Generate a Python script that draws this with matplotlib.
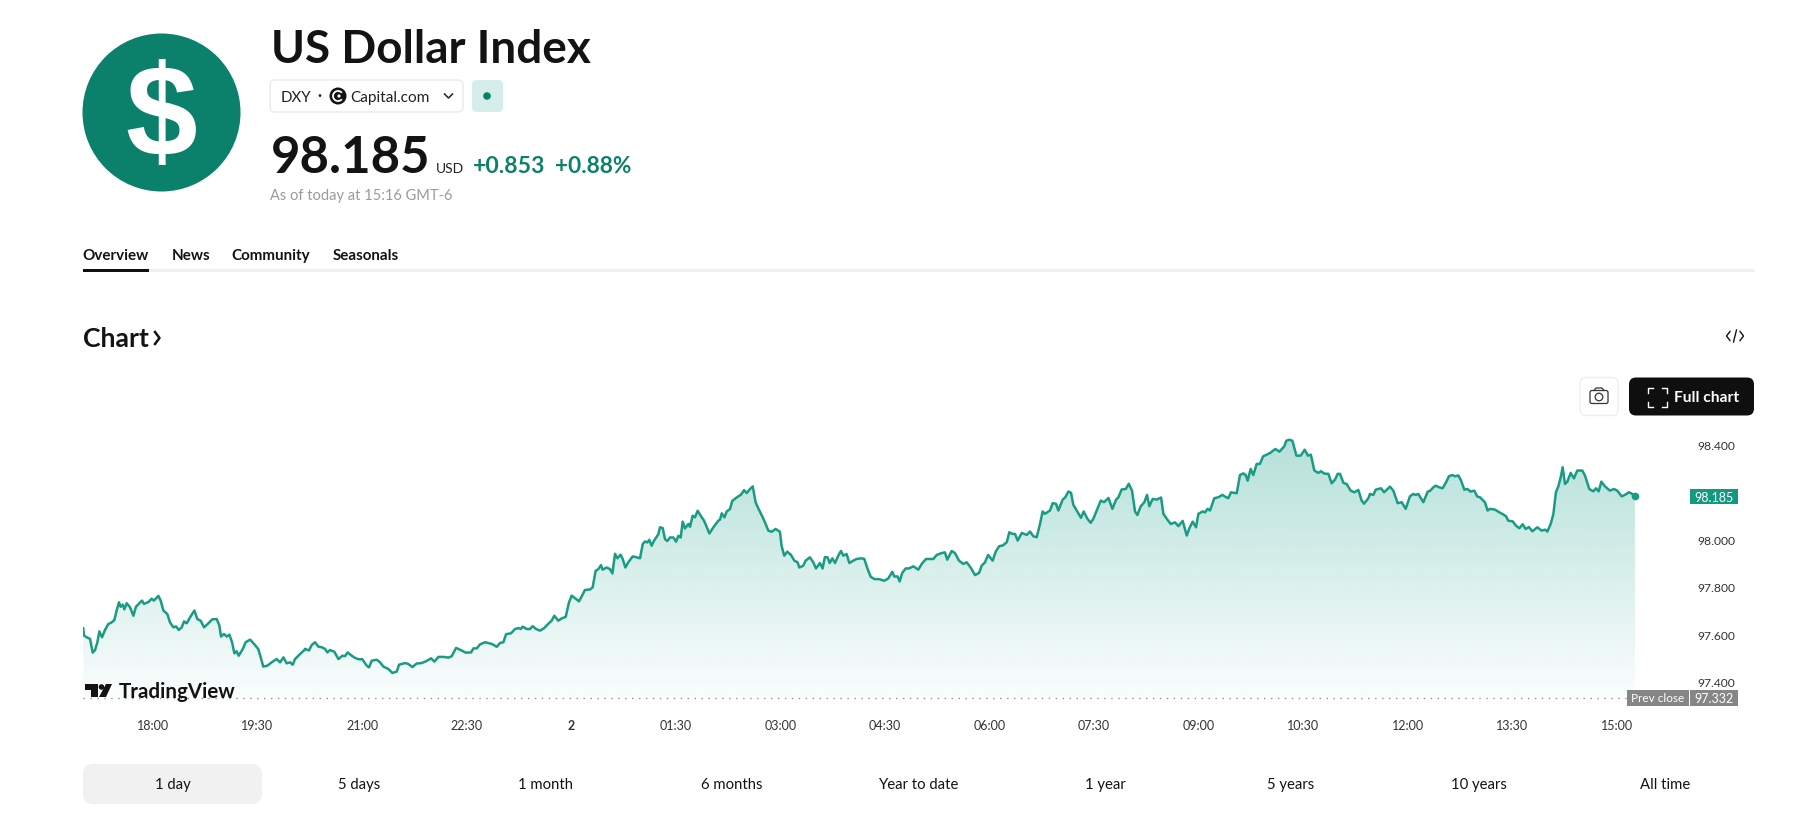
import numpy as np
import matplotlib
matplotlib.use('Agg')
import matplotlib.pyplot as plt
from matplotlib.patches import Circle, FancyBboxPatch, Polygon, Rectangle, Arc

# ----------------------------------------------------------------------------------------------------------------------
# values: minutes since 17:00, index value

minutes = [
    0, 0.7, 3.0, 5.9, 6.7, 8.2, 10.2, 12.2, 13.9, 16.2, 18.8, 21.6, 24.5, 26.8, 28.8, 30.8, 32.2, 34.0, 35.4, 37.4,
    40.3, 43.2, 45.4, 48.3, 50.6, 52.3, 56.1, 58.9, 60.9, 64.7, 66.7, 69.0, 72.4, 74.7, 77.6, 79.9, 82.2, 84.8, 86.8,
    89.1, 91.9, 95.7, 98.2, 101.1, 104.0, 107.7, 111.1, 114.9, 117.2, 118.6, 121.2, 123.5, 125.8, 128.1, 130.1, 132.1,
    133.8, 137.3, 139.8, 143.6, 147.0, 150.7, 153.6, 155.0, 158.5, 162.2, 166.5, 169.4, 172.3, 175.1, 178.0, 180.3,
    182.3, 186.6, 190.3,
    190.9, 194.3, 196.6, 199.5, 202.4, 205.2, 208.1, 210.1, 212.4, 216.1, 219.6, 223.0, 225.3, 227.6, 231.1, 233.9,
    236.8, 240.2, 244.0, 246.0, 248.3, 252.6, 255.5, 258.3, 262.6, 266.1, 269.8, 271.8, 277.0, 279.8, 283.3, 287.0,
    291.3, 295.6, 299.4, 302.2, 305.7, 310.0, 314.3, 317.1, 320.9, 325.7, 329.2, 333.8, 335.8, 338.7, 341.5, 345.8,
    351.6, 355.9, 358.7, 361.6, 363.9, 368.2, 371.6, 374.5, 376.5, 378.2, 381.7, 384.6,
    386.8, 389.7, 393.1, 396.5, 400.3, 403.1, 405.4, 408.9, 411.8, 415.2, 418.1, 420.4, 424.1, 426.7, 429.0, 431.8,
    436.1, 438.4, 441.0, 443.3, 445.6, 447.0, 450.5, 453.4, 455.4, 457.7, 459.7, 462.5, 464.3, 466.6, 469.1, 472.9,
    476.3, 479.2, 481.5, 483.5, 485.5, 487.2, 489.2, 491.2, 495.0, 496.4, 498.7, 500.7, 502.7, 505.0, 507.9, 510.2,
    512.2, 514.2, 515.9, 517.9, 520.8, 522.2, 524.5, 526.5, 528.8, 531.4, 534.3, 538.9, 542.3, 546.6, 548.0, 549.5,
    551.8, 553.8, 556.6, 558.6, 562.4, 566.1, 568.7, 571.0, 573.9, 576.2, 578.2,
    578.7, 581.0, 584.4, 586.7, 589.6, 592.4, 595.9, 599.6, 601.0, 603.3, 605.9, 609.1, 612.0, 614.8, 616.3, 619.7,
    621.7, 625.4, 628.3, 630.6, 634.0, 636.3, 638.3, 640.6, 642.4, 644.7, 647.0, 649.8, 652.1, 654.1, 657.0, 659.3,
    662.7, 665.6, 669.9, 672.2, 675.1, 677.7, 680.8, 684.8, 689.4, 692.9, 696.3, 698.0, 700.9, 702.6, 704.9, 707.8,
    710.6, 714.4, 718.7, 721.6, 725.3, 728.7, 731.6, 734.5, 738.8, 741.6, 743.6, 747.4, 750.2, 753.7, 757.4, 760.3,
    763.7, 767.5, 770.9,
    771.8, 773.2, 776.1, 778.7, 782.7, 785.3, 788.2, 791.3, 794.8, 797.0, 799.6, 801.9, 804.2, 807.7, 812.0, 814.8,
    817.7, 820.6, 823.4, 825.7, 827.7, 832.0, 834.3, 837.2, 839.2, 842.9, 845.2, 847.8, 850.1, 852.1, 855.0, 858.7,
    861.0, 864.2, 867.0, 869.3, 872.2, 875.7, 878.5, 882.3, 885.7, 888.9, 890.9, 893.7, 897.2, 899.8, 902.6, 905.2,
    907.2, 910.1, 913.2, 915.5, 917.5, 920.4, 923.9, 927.6, 929.6, 932.5, 935.9, 939.6, 942.5, 946.2, 949.7, 952.0,
    954.8, 957.7, 959.7, 963.4,
    965.4, 967.7, 969.7, 973.4, 976.9, 980.3, 982.6, 985.5, 987.8, 992.7, 995.5, 998.4, 1000.4, 1002.1, 1004.7, 1007.0,
    1009.9, 1012.7, 1015.4, 1021.4, 1025.9, 1029.4, 1033.6, 1035.4, 1037.9, 1040.6, 1044.1, 1047.7, 1051.2, 1054.0,
    1056.5, 1059.5, 1062.9, 1065.2, 1068.1, 1071.6, 1074.4, 1077.3, 1079.6, 1081.6, 1084.5, 1087.3, 1090.8, 1093.9,
    1097.4, 1100.2, 1102.3, 1106.0, 1107.4, 1110.3, 1112.3, 1116.9, 1119.5, 1124.6, 1127.5, 1131.2, 1134.7, 1138.1,
    1141.8, 1144.7, 1146.7, 1149.0, 1153.3, 1157.1, 1159.1,
    1161.9, 1163.9, 1167.0, 1169.9, 1172.8, 1175.4, 1178.2, 1180.5, 1183.4, 1185.4, 1188.6, 1191.1, 1194.0, 1197.2,
    1199.7, 1202.0, 1204.3, 1206.3, 1208.6, 1210.6, 1214.9, 1217.8, 1221.5, 1224.4, 1226.4, 1230.2, 1233.0, 1235.9,
    1238.8, 1241.3, 1244.2, 1247.1, 1251.4, 1255.1, 1258.0, 1260.0, 1262.9, 1265.2, 1267.4, 1269.5, 1271.5, 1273.2,
    1275.2, 1277.2, 1280.1, 1282.9, 1285.8, 1290.1, 1292.4, 1296.1, 1299.6, 1301.9, 1304.2, 1306.5, 1309.6, 1313.9,
    1317.4, 1320.2, 1324.0, 1326.8, 1330.3, 1333.1, 1335.4,
]

prices = [
    97.625, 97.594, 97.587, 97.580, 97.559, 97.522, 97.533, 97.566, 97.612, 97.587, 97.618, 97.643, 97.650, 97.660,
    97.700, 97.735, 97.716, 97.725, 97.705, 97.731, 97.714, 97.678, 97.716, 97.731, 97.742, 97.728, 97.736, 97.750,
    97.742, 97.762, 97.742, 97.700, 97.685, 97.650, 97.629, 97.633, 97.618, 97.629, 97.654, 97.646, 97.671, 97.700,
    97.664, 97.657, 97.629, 97.646, 97.663, 97.664, 97.636, 97.590, 97.601, 97.590, 97.598, 97.566, 97.519, 97.528,
    97.509, 97.537, 97.566, 97.577, 97.559, 97.537, 97.488, 97.463, 97.467, 97.481, 97.495, 97.481, 97.502, 97.477,
    97.481, 97.471, 97.495, 97.516, 97.533,
    97.538, 97.531, 97.554, 97.566, 97.547, 97.545, 97.538, 97.523, 97.533, 97.526, 97.495, 97.509, 97.507, 97.523,
    97.509, 97.500, 97.494, 97.494, 97.467, 97.460, 97.488, 97.492, 97.481, 97.463, 97.453, 97.436, 97.442, 97.471,
    97.478, 97.474, 97.461, 97.476, 97.478, 97.487, 97.498, 97.484, 97.504, 97.504, 97.501, 97.507, 97.542, 97.531,
    97.522, 97.523, 97.540, 97.540, 97.557, 97.566, 97.559, 97.547, 97.563, 97.566, 97.600, 97.604, 97.622, 97.626,
    97.622, 97.632, 97.622, 97.622,
    97.634, 97.622, 97.615, 97.625, 97.644, 97.657, 97.678, 97.657, 97.667, 97.673, 97.735, 97.763, 97.749, 97.739,
    97.760, 97.787, 97.789, 97.798, 97.868, 97.875, 97.892, 97.873, 97.882, 97.875, 97.857, 97.940, 97.921, 97.936,
    97.918, 97.882, 97.904, 97.929, 97.925, 97.921, 97.981, 97.992, 97.988, 97.999, 97.974, 97.995, 98.023, 98.052,
    98.049, 98.002, 97.994, 98.009, 98.009, 97.991, 98.016, 98.009, 98.076, 98.047, 98.066, 98.054, 98.101, 98.094,
    98.122, 98.101, 98.080, 98.026, 98.052, 98.080, 98.084, 98.111, 98.094, 98.119, 98.129, 98.164, 98.178, 98.190,
    98.209, 98.197, 98.214, 98.225, 98.171,
    98.157, 98.132, 98.098, 98.073, 98.038, 98.033, 98.045, 98.033, 97.974, 97.932, 97.949, 97.935, 97.911, 97.904,
    97.882, 97.890, 97.911, 97.925, 97.904, 97.878, 97.901, 97.878, 97.926, 97.925, 97.901, 97.921, 97.901, 97.932,
    97.952, 97.932, 97.939, 97.901, 97.911, 97.918, 97.921, 97.918, 97.875, 97.843, 97.833, 97.833, 97.826, 97.836,
    97.864, 97.844, 97.844, 97.823, 97.859, 97.878, 97.878, 97.887, 97.873, 97.897, 97.918, 97.918, 97.918, 97.935,
    97.943, 97.946, 97.915, 97.952, 97.943, 97.911, 97.897, 97.904, 97.882, 97.850, 97.859,
    97.869, 97.890, 97.904, 97.935, 97.911, 97.949, 97.972, 97.975, 97.989, 98.031, 98.024, 98.024, 97.996, 98.028,
    98.020, 98.034, 98.014, 98.010, 98.066, 98.119, 98.109, 98.123, 98.154, 98.151, 98.123, 98.169, 98.179, 98.203,
    98.198, 98.147, 98.123, 98.092, 98.119, 98.088, 98.071, 98.088, 98.123, 98.165, 98.158, 98.176, 98.130, 98.169,
    98.179, 98.212, 98.214, 98.236, 98.207, 98.119, 98.104, 98.141, 98.158, 98.189, 98.141, 98.172, 98.169, 98.178,
    98.109, 98.088, 98.066, 98.073, 98.057, 98.079, 98.017, 98.048, 98.076, 98.052, 98.109, 98.119,
    98.115, 98.130, 98.123, 98.175, 98.179, 98.189, 98.182, 98.175, 98.200, 98.196, 98.273, 98.280, 98.273, 98.249,
    98.299, 98.273, 98.320, 98.320, 98.352, 98.366, 98.383, 98.372, 98.394, 98.418, 98.422, 98.418, 98.355, 98.355,
    98.380, 98.355, 98.359, 98.292, 98.282, 98.289, 98.279, 98.278, 98.238, 98.254, 98.278, 98.278, 98.240, 98.235,
    98.207, 98.200, 98.210, 98.165, 98.152, 98.175, 98.193, 98.189, 98.211, 98.217, 98.200, 98.224, 98.207, 98.154,
    98.158, 98.130, 98.183, 98.193, 98.189, 98.193, 98.158, 98.203, 98.206,
    98.221, 98.228, 98.221, 98.217, 98.242, 98.268, 98.273, 98.268, 98.271, 98.254, 98.211, 98.214, 98.203, 98.207,
    98.182, 98.179, 98.168, 98.158, 98.123, 98.130, 98.127, 98.118, 98.108, 98.099, 98.080, 98.077, 98.059, 98.048,
    98.065, 98.045, 98.053, 98.035, 98.052, 98.038, 98.042, 98.034, 98.066, 98.108, 98.200, 98.225, 98.263, 98.306,
    98.235, 98.245, 98.282, 98.259, 98.292, 98.292, 98.271, 98.214, 98.204, 98.217, 98.204, 98.245, 98.225, 98.207,
    98.214, 98.207, 98.183, 98.189, 98.200, 98.193, 98.185,
]

prev_close = 97.332
last_price = 98.185

time_ticks = [60, 150, 240, 330, 420, 510, 600, 690, 780, 870, 960, 1050, 1140, 1230, 1320]
time_labels = ['18:00', '19:30', '21:00', '22:30', '2', '01:30', '03:00', '04:30', '06:00', '07:30', '09:00', '10:30',
               '12:00', '13:30', '15:00']
price_ticks = [97.4, 97.6, 97.8, 98.0, 98.2, 98.4]
price_labels = ['97.400', '97.600', '97.800', '98.000', '98.200', '98.400']

tabs = ['Overview', 'News', 'Community', 'Seasonals']
ranges = ['1 day', '5 days', '1 month', '6 months', 'Year to date', '1 year', '5 years', '10 years', 'All time']

# ----------------------------------------------------------------------------------------------------------------------

FONT = 'Lato'
GREEN = '#0b806a'
LINE = '#1a9b84'
W, H = 1810, 837

# chart placement in pixels
X0, X1 = 83.2, 1690
Y0, Y1 = 430, 708
PX_MIN = 1.162
PX_UNIT = 236.5


def page_axes(zorder):
    a = fig.add_axes([0, 0, 1, 1], zorder=zorder)
    a.set_xlim(0, W)
    a.set_ylim(H, 0)
    a.axis('off')
    a.patch.set_alpha(0)
    return a


def box(a, x0, y0, x1, y1, round_px=0, **kw):
    p = FancyBboxPatch((x0, y0), x1 - x0, y1 - y0, boxstyle=f'round,pad=0,rounding_size={round_px}', **kw)
    a.add_patch(p)
    return p


def label(a, x, y, s, size, color='#131313', weight='normal', ha='left', va='center', family=FONT):
    return a.text(x, y, s, fontsize=size, color=color, fontweight=weight, ha=ha, va=va, family=family)


def draw_header(a):
    a.add_patch(Circle((161.5, 113.5), 79, color=GREEN, lw=0))
    label(a, 161.5, 121, '$', 93, color='white', weight='bold', ha='center', family='Liberation Sans')

    label(a, 271, 63, 'US Dollar Index', 33, weight='bold', va='baseline')

    box(a, 270, 81, 463, 113, 5, fc='white', ec='#eaeaea', lw=1)
    label(a, 281, 97.5, 'DXY', 10.8, color='#222222')
    label(a, 319, 96, '·', 10.5, color='#222222', ha='center', weight='bold')
    a.add_patch(Circle((338, 97), 8.5, color='#131313', lw=0))
    a.add_patch(Arc((338, 97), 10, 10, theta1=40, theta2=320, color='white', lw=1.3))
    a.add_patch(Circle((339, 97), 1.6, color='white', lw=0))
    label(a, 350, 97.5, 'Capital.com', 11.1, color='#222222')
    a.plot([444.5, 448.5, 452.5], [95, 99, 95], color='#222222', lw=1.1)

    box(a, 472, 81, 503, 113, 5, fc='#d6eeea', ec='none')
    a.add_patch(Circle((487, 97), 3.8, color=GREEN, lw=0))

    label(a, 271, 173, '98.185', 36.6, weight='bold', va='baseline')
    label(a, 435.5, 173, 'USD', 10, color='#222222', va='baseline')
    label(a, 473, 173, '+0.853', 16.6, color=GREEN, weight='bold', va='baseline')
    label(a, 555, 173, '+0.88%', 16.3, color=GREEN, weight='bold', va='baseline')
    label(a, 270, 195.5, 'As of today at 15:16 GMT-6', 10.5, color='#9b9b9b')


def draw_tabs(a):
    a.add_patch(Rectangle((82.5, 270), 1672, 3.2, color='#f0f0f0', lw=0))
    a.add_patch(Rectangle((82.5, 269.5), 66.5, 3.7, color='#0f0f0f', lw=0))
    for x, name in zip([82.5, 172, 231, 333], tabs):
        label(a, x, 255.5, name, 10.9, weight='bold')

    label(a, 83, 339, 'Chart', 19.2, weight='bold')
    a.plot([155, 159.5, 155], [333, 339, 345], color='#131313', lw=1.8)

    # embed icon
    a.plot([1730, 1726.5, 1730], [332.5, 337, 341.5], color='#131313', lw=1)
    a.plot([1733.5, 1736.5], [343, 331], color='#131313', lw=1)
    a.plot([1740, 1743.5, 1740], [332.5, 337, 341.5], color='#131313', lw=1)


def draw_buttons(a):
    box(a, 1580, 378.5, 1618, 416.5, 6, fc='white', ec='#eeeeee', lw=1)
    box(a, 1590, 391.5, 1608, 404.5, 2, fc='white', ec='#333333', lw=0.9)
    a.plot([1594, 1596, 1602, 1604], [391.5, 389, 389, 391.5], color='#333333', lw=0.9)
    a.add_patch(Circle((1599, 398), 3.8, fc='none', ec='#333333', lw=0.9))

    box(a, 1629, 378.5, 1754, 416.5, 7, fc='#0f0f0f', ec='none')
    label(a, 1674, 398, 'Full chart', 11.2, color='white', weight='bold')
    for x, dx in [(1648, 1), (1667, -1)]:
        for y, dy in [(388.5, 1), (407.5, -1)]:
            a.plot([x + 5 * dx, x, x], [y, y, y + 5 * dy], color='white', lw=1.0)


def draw_range_bar(a):
    box(a, 83, 765, 262, 805, 10, fc='#f1f1f1', ec='none')
    for x, name in zip([173, 359, 545, 732, 918, 1105, 1291, 1479, 1665], ranges):
        label(a, x, 785.5, name, 10.7, ha='center')


def draw_chart(ax):
    ax.set_facecolor('none')
    for s in ax.spines.values():
        s.set_visible(False)

    band = ax.fill_between(minutes, prices, prev_close, facecolor='none', linewidth=0)
    alpha = np.linspace(0.30, 0.02, 256)
    shade = np.zeros((256, 1, 4))
    shade[..., 0], shade[..., 1], shade[..., 2] = 8 / 255, 153 / 255, 129 / 255
    shade[:, 0, 3] = alpha
    im = ax.imshow(shade, extent=(0, minutes[-1], prev_close, max(prices)), aspect='auto', zorder=1,
                   interpolation='bilinear')
    im.set_clip_path(band.get_paths()[0], transform=ax.transData)

    ax.plot(minutes, prices, color=LINE, lw=1.8, solid_joinstyle='round', zorder=3)
    ax.plot(minutes[-1], last_price, 'o', color=LINE, ms=5.5, mew=0, zorder=4)
    ax.axhline(prev_close, color='#8f8f8f', lw=1, dashes=(1, 4), zorder=2)

    ax.set_xlim(0, (X1 - X0) / PX_MIN)
    ax.set_ylim(98.4 - (Y1 - 446) / PX_UNIT, 98.4 + (446 - Y0) / PX_UNIT)

    ax.set_xticks(time_ticks)
    ax.set_xticklabels(time_labels, family=FONT, fontsize=9, color='#333333')
    ax.get_xticklabels()[4].set_fontweight('bold')
    ax.tick_params(axis='x', length=0, pad=8.5)

    ax.yaxis.tick_right()
    ax.set_yticks(price_ticks)
    ax.set_yticklabels(price_labels, family=FONT, fontsize=8.7, color='#333333', ha='center')
    ax.tick_params(axis='y', length=0, pad=19)


def draw_tags(a):
    y_last = 446 + (98.4 - last_price) * PX_UNIT
    y_prev = 446 + (98.4 - prev_close) * PX_UNIT
    a.add_patch(Rectangle((1690, y_last - 7), 48, 15.5, color='#12997f', lw=0))
    label(a, 1714, y_last + 1, '98.185', 9, color='white', ha='center')
    a.add_patch(Rectangle((1627, y_prev - 8), 62, 16, color='#868686', lw=0))
    label(a, 1658, y_prev, 'Prev close', 8.5, color='white', ha='center')
    a.add_patch(Rectangle((1690, y_prev - 8), 48, 16, color='#868686', lw=0))
    label(a, 1714, y_prev, '97.332', 9, color='white', ha='center')

    # TradingView mark
    a.add_patch(Polygon([(85, 685), (98, 685), (98, 698), (91, 698), (91, 691), (85, 691)], color='#131313', lw=0))
    a.add_patch(Circle((101.5, 688), 2.8, color='#131313', lw=0))
    a.add_patch(Polygon([(106, 685), (112, 685), (106, 698), (99, 698)], color='#131313', lw=0))
    label(a, 119, 698, 'TradingView', 14.8, weight='bold', va='baseline')


# ----------------------------------------------------------------------------------------------------------------------

if __name__ == '__main__':

    fig = plt.figure(figsize=(W / 100, H / 100), dpi=100, facecolor='white')

    page = page_axes(0)
    draw_header(page)
    draw_tabs(page)
    draw_buttons(page)
    draw_range_bar(page)

    chart = fig.add_axes([X0 / W, 1 - Y1 / H, (X1 - X0) / W, (Y1 - Y0) / H], zorder=1)
    draw_chart(chart)

    top = page_axes(2)
    draw_tags(top)

    fig.savefig('out.png', dpi=100)
